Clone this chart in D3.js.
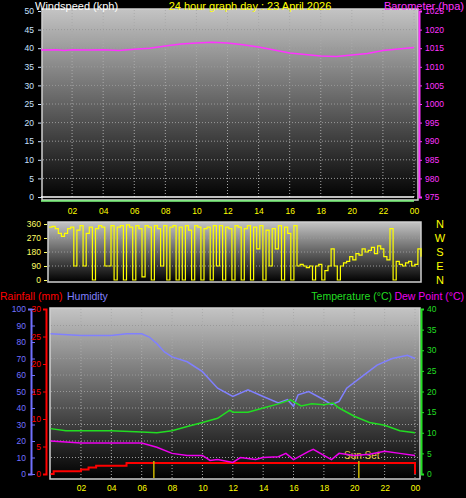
<!DOCTYPE html>
<html><head><meta charset="utf-8">
<script src="https://cdn.jsdelivr.net/npm/d3@7"></script>
<style>body{margin:0;background:#000}svg{display:block;font-family:"Liberation Sans",Arial,sans-serif}</style>
</head><body>
<svg id="c" width="466" height="498"></svg>
<script>
const hourTicks = [2,4,6,8,10,12,14,16,18,20,22,24];
const hourLabels = ["02","04","06","08","10","12","14","16","18","20","22","00"];

const baroHours = [0,1,1.5,2,3,4,5,6,7,8,9,10,11,12,13,14,15,16,17,18,19,20,21,22,23,24];
const baroValues = [1014.5,1014.6,1014.4,1014.6,1014.5,1014.6,1014.4,1014.7,1015.0,1015.6,1016.1,1016.4,1016.6,1016.4,1015.9,1015.3,1014.5,1013.7,1013.3,1012.9,1012.8,1013.2,1013.6,1014.4,1014.8,1015.2];
const windHours = [0,24];
const windAvg = [0,0];
const windGust = [0,0];

const dirValues = [340,345,330,300,280,300,330,340,90,320,350,
 90,300,340,0,330,350,340,90,90,350,
 0,340,350,0,355,340,0,350,330,20,
 350,340,0,350,330,90,350,0,340,350,
 0,340,0,350,320,0,350,340,0,330,
 340,0,350,90,350,0,340,330,0,350,
 340,0,330,350,0,340,200,350,0,320,
 90,330,200,350,0,340,300,0,350,90,
 100,90,80,90,0,90,100,0,60,90,
 200,90,0,90,110,120,150,130,170,160,
 200,180,190,210,170,220,200,150,130,330,
 0,120,100,90,110,120,90,100,200,150];
const dirStep = 0.2;

const humHours = [0,2,4,5,6,6.5,7,7.5,8,9,10,10.5,11,12,13,14,15,15.6,16,16.3,17,18,18.5,19,19.5,20.5,21.5,22.5,23.5,24];
const humValues = [85,84,84,85,85,83,79,74,71,68,62,57,52,47,51,47,43,45,41,48,50,45,42,44,52,59,66,70,72,70];
const tempHours = [0,1,4,6,7,8,9,10,11,11.8,12,13,14,15,15.8,16.5,17.2,18,18.6,19,20,21,22,23,24];
const tempValues = [11,10.5,10.5,10.2,10,10.5,11.5,12.5,13.5,15.5,15,15,16,17,18,16.5,17,16.8,17.2,16,14,12.5,11.8,10.5,10];
const dewHours = [0,2,6,7,8,9,10,10.5,11,12,12.5,13.5,14,15,15.5,16,17,17.3,18,18.5,19,20,21,22,23,24];
const dewValues = [8,7.5,7.5,6.5,5,4.5,4.5,3.3,3.5,2.8,4,3.5,4,4.2,5,3.5,5.5,6,4.5,3.5,5,4.5,4.8,5.5,5,4.5];
const rainHours = [0,0.2,1,2,2.5,3,5,24,24];
const rainValues = [0,0.5,0.5,0.8,1.2,1.5,2,2,0];
const sunHours = [6.8,20.3];

const svg = d3.select("#c");
const defs = svg.append("defs");
const grad = defs.append("linearGradient").attr("id","bg").attr("x1",0).attr("y1",0).attr("x2",0).attr("y2",1);
grad.append("stop").attr("offset","0%").attr("stop-color","#c4c4c4");
grad.append("stop").attr("offset","100%").attr("stop-color","#000");

function panel(x0,x1,y0,y1){
  svg.append("rect").attr("x",x0).attr("y",y0).attr("width",x1-x0).attr("height",y1-y0)
    .attr("fill","url(#bg)").attr("stroke","#d0d0d0").attr("stroke-width",1.5);
}
function vgrid(x,y0,y1){
  svg.append("g").selectAll("line").data(hourTicks).join("line")
    .attr("x1",d=>x(d)).attr("x2",d=>x(d)).attr("y1",y0).attr("y2",y1)
    .attr("stroke","#aaa").attr("stroke-dasharray","1,2");
}
function hgrid(y,ticks,x0,x1){
  svg.append("g").selectAll("line").data(ticks).join("line")
    .attr("x1",x0).attr("x2",x1).attr("y1",d=>y(d)).attr("y2",d=>y(d))
    .attr("stroke","#999").attr("stroke-dasharray","1,2");
}
function styleAxis(g,color){
  g.selectAll("path").attr("stroke",color);
  g.selectAll("line").attr("stroke",color);
  g.selectAll("text").attr("fill",color).style("font-size","8.5px");
}
function xAxis(x,y){
  const g = svg.append("g").attr("transform",`translate(0,${y})`)
    .call(d3.axisBottom(x).tickValues(hourTicks).tickFormat((d,i)=>hourLabels[i]).tickSize(0).tickPadding(0));
  g.select(".domain").remove();
  g.selectAll("text").attr("fill","#ffff00").style("font-size","8.5px");
}
function lineOf(x,y,hs,vs,color,w,curve){
  svg.append("path").datum(vs.map((v,i)=>[hs[i],v]))
    .attr("fill","none").attr("stroke",color).attr("stroke-width",w||1.5)
    .attr("d",d3.line().curve(curve||d3.curveLinear).x(d=>x(d[0])).y(d=>y(d[1])));
}

// ---- top: windspeed / barometer
const x1 = d3.scaleLinear().domain([0,24]).range([41,414]);
const yW = d3.scaleLinear().domain([0,50]).range([197,11]);
const yB = d3.scaleLinear().domain([975,1025]).range([197,11]);
panel(42,418,9,200);
vgrid(x1,10,199);
hgrid(yW,d3.range(5,50,5),43,417);
lineOf(x1,yW,windHours,windGust,"#ffffff",1.5);
svg.append("path").datum(windAvg.map((v,i)=>[windHours[i],v])).attr("fill","none").attr("stroke","#80ff80").attr("stroke-width",1.5)
  .attr("d",d3.line().x(d=>x1(d[0])).y(d=>yW(d[1])+4));
lineOf(x1,yB,baroHours,baroValues,"#ff33ff",1.5);
let g = svg.append("g").attr("transform","translate(41,0)").call(d3.axisLeft(yW).tickValues(d3.range(0,51,5)).tickSize(3).tickPadding(4));
styleAxis(g,"#c8e0ff"); g.select(".domain").remove();
g = svg.append("g").attr("transform","translate(419,0)").call(d3.axisRight(yB).tickValues(d3.range(975,1026,5)).tickFormat(d3.format("d")).tickSize(3).tickPadding(3));
styleAxis(g,"#ff33ff"); g.select(".domain").attr("stroke-width",2);
xAxis(x1,208);
svg.append("text").attr("x",35).attr("y",10).attr("fill","#fff").style("font-size","11px").text("Windspeed (kph)");
svg.append("text").attr("x",250).attr("y",10).attr("text-anchor","middle").attr("fill","#ffff00").style("font-size","11px").text("24 hour graph day : 23 April 2026");
svg.append("text").attr("x",464).attr("y",10).attr("text-anchor","end").attr("fill","#ff33ff").style("font-size","11px").text("Barometer (hpa)");

// ---- middle: wind direction
const x2 = d3.scaleLinear().domain([0,24]).range([49,421]);
const yD = d3.scaleLinear().domain([0,360]).range([280,224]);
panel(48,421,222,282);
hgrid(yD,[90,180,270],49,420);
lineOf(x2,yD,dirValues.map((v,i)=>i*dirStep),dirValues,"#ffff00",1.2,d3.curveStepAfter);
g = svg.append("g").attr("transform","translate(47,0)").call(d3.axisLeft(yD).tickValues([0,90,180,270,360]).tickSize(3).tickPadding(3));
styleAxis(g,"#ffff66"); g.select(".domain").remove();
["N","W","S","E","N"].forEach((t,i)=>svg.append("text").attr("x",440).attr("y",yD(360-i*90)+4)
  .attr("text-anchor","middle").attr("fill","#ffff00").style("font-size","11px").text(t));

// ---- bottom: rain / humidity / temp / dew
const x3 = d3.scaleLinear().domain([0,24]).range([50.6,415]);
const yH = d3.scaleLinear().domain([0,100]).range([474,309]);
const yR = d3.scaleLinear().domain([0,30]).range([474,309]);
const yT = d3.scaleLinear().domain([0,40]).range([474,309]);
panel(50,420,308,479);
vgrid(x3,309,478);
hgrid(yH,d3.range(10,100,10),51,419);
lineOf(x3,yR,rainHours,rainValues,"#ff0000",2,d3.curveStepAfter);
svg.append("g").selectAll("line").data(sunHours).join("line")
  .attr("x1",d=>x3(d)).attr("x2",d=>x3(d)).attr("y1",461).attr("y2",478)
  .attr("stroke","#c8b400").attr("stroke-width",1.5);
svg.append("text").attr("x",x3(20.5)).attr("y",459).attr("text-anchor","middle").attr("fill","#e0c840").style("font-size","10px").text("Sun Set");
lineOf(x3,yH,humHours,humValues,"#8080ff",1.5);
lineOf(x3,yT,tempHours,tempValues,"#22dd22",1.5);
lineOf(x3,yT,dewHours,dewValues,"#ee00ee",1.5);
g = svg.append("g").attr("transform","translate(31,0)").call(d3.axisLeft(yH).tickValues(d3.range(0,101,10)).tickSize(3).tickPadding(2));
styleAxis(g,"#7070ff"); g.select(".domain").attr("stroke-width",2);
g.selectAll(".tick line").attr("transform","translate(4,0)");
g = svg.append("g").attr("transform","translate(46,0)").call(d3.axisLeft(yR).tickValues(d3.range(0,31,5)).tickSize(3).tickPadding(2));
styleAxis(g,"#ff0000"); g.select(".domain").attr("stroke-width",2);
g = svg.append("g").attr("transform","translate(421,0)").call(d3.axisRight(yT).tickValues(d3.range(0,41,5)).tickSize(3).tickPadding(3));
styleAxis(g,"#22dd22"); g.select(".domain").attr("stroke-width",2);
xAxis(x3,485);
svg.append("text").attr("x",0).attr("y",300).attr("fill","#ff0000").style("font-size","10.5px").text("Rainfall (mm)");
svg.append("text").attr("x",67).attr("y",300).attr("fill","#8080ff").style("font-size","10.5px").text("Humidity");
svg.append("text").attr("x",392).attr("y",300).attr("text-anchor","end").attr("fill","#22dd22").style("font-size","10.5px").text("Temperature (°C)");
svg.append("text").attr("x",464).attr("y",300).attr("text-anchor","end").attr("fill","#ee00ee").style("font-size","10.5px").text("Dew Point (°C)");
</script>
</body></html>
